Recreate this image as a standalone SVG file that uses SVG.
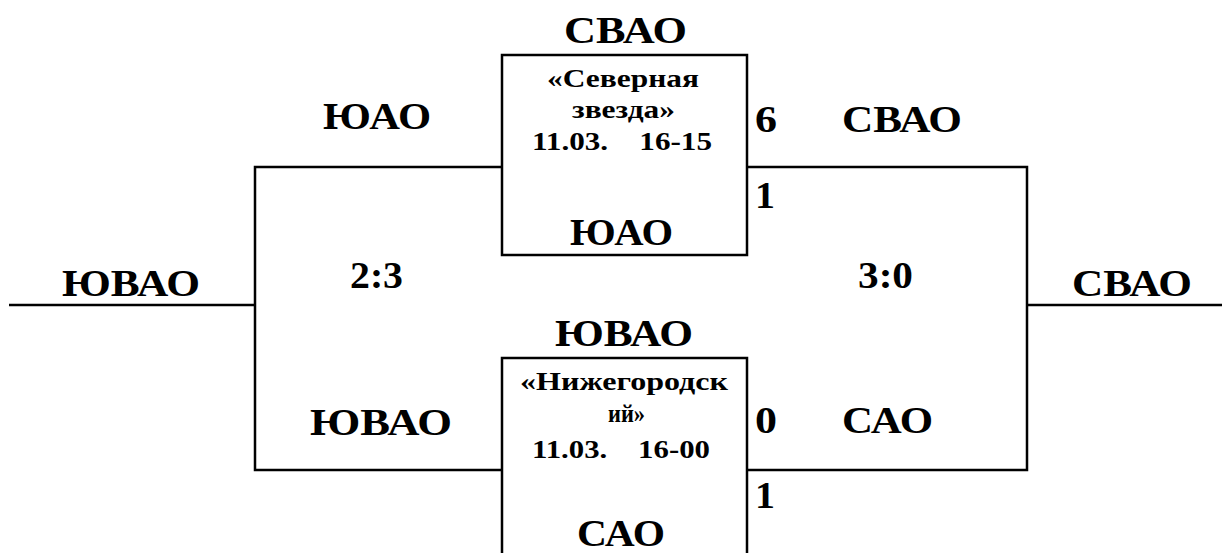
<svg xmlns="http://www.w3.org/2000/svg" width="1228" height="553" viewBox="0 0 1228 553">
<style>
text{font-family:"Liberation Serif","Times New Roman",serif;font-weight:bold;fill:#000}
.b{font-size:38px}
.s{font-size:26px}
.m{text-anchor:middle}
.ln{stroke:#000;stroke-width:2.5;fill:none}
.box{stroke:#000;stroke-width:2.5;fill:#fff}
</style>
<rect width="1228" height="553" fill="#fff"/>
<g id="connectors">
<line class="ln" x1="9" y1="305" x2="255" y2="305"/>
<polyline class="ln" points="502,167 255,167 255,470 502,470"/>
<polyline class="ln" points="747,167 1027,167 1027,470 747,470"/>
<line class="ln" x1="1027" y1="305" x2="1222" y2="305"/>
</g>
<g id="match1">
<rect class="box" x="502" y="55" width="245" height="200"/>
<text class="b m" x="625.5" y="43" textLength="123" lengthAdjust="spacingAndGlyphs">СВАО</text>
<text class="s m" x="623" y="87" textLength="152" lengthAdjust="spacingAndGlyphs">«Северная</text>
<text class="s m" x="623.5" y="118" textLength="103" lengthAdjust="spacingAndGlyphs">звезда»</text>
<text class="s m" x="622" y="150" xml:space="preserve" textLength="180" lengthAdjust="spacingAndGlyphs">11.03.    16-15</text>
<text class="b m" x="621.5" y="245" textLength="103" lengthAdjust="spacingAndGlyphs">ЮАО</text>
</g>
<g id="match2">
<rect class="box" x="502" y="358" width="245" height="200"/>
<text class="b m" x="624" y="346" textLength="138" lengthAdjust="spacingAndGlyphs">ЮВАО</text>
<text class="s m" x="624" y="390" textLength="208" lengthAdjust="spacingAndGlyphs">«Нижегородск</text>
<text class="s m" x="626.5" y="422" textLength="37" lengthAdjust="spacingAndGlyphs">ий»</text>
<text class="s m" x="621" y="458" xml:space="preserve" textLength="178" lengthAdjust="spacingAndGlyphs">11.03.    16-00</text>
<text class="b m" x="621" y="546" textLength="88" lengthAdjust="spacingAndGlyphs">САО</text>
</g>
<g id="labels">
<text class="b m" x="377" y="129" textLength="108" lengthAdjust="spacingAndGlyphs">ЮАО</text>
<text class="b" x="755" y="132" textLength="22" lengthAdjust="spacingAndGlyphs">6</text>
<text class="b m" x="902" y="132" textLength="120" lengthAdjust="spacingAndGlyphs">СВАО</text>
<text class="b" x="755" y="208" textLength="20" lengthAdjust="spacingAndGlyphs">1</text>
<text class="b m" x="131" y="296" textLength="138" lengthAdjust="spacingAndGlyphs">ЮВАО</text>
<text class="b m" x="376.5" y="288" textLength="53" lengthAdjust="spacingAndGlyphs">2:3</text>
<text class="b m" x="885.5" y="288" textLength="55" lengthAdjust="spacingAndGlyphs">3:0</text>
<text class="b m" x="1132" y="296" textLength="120" lengthAdjust="spacingAndGlyphs">СВАО</text>
<text class="b m" x="381" y="435" textLength="142" lengthAdjust="spacingAndGlyphs">ЮВАО</text>
<text class="b" x="755" y="433" textLength="22" lengthAdjust="spacingAndGlyphs">0</text>
<text class="b m" x="887.5" y="433" textLength="91" lengthAdjust="spacingAndGlyphs">САО</text>
<text class="b" x="755" y="508" textLength="20" lengthAdjust="spacingAndGlyphs">1</text>
</g>
</svg>
